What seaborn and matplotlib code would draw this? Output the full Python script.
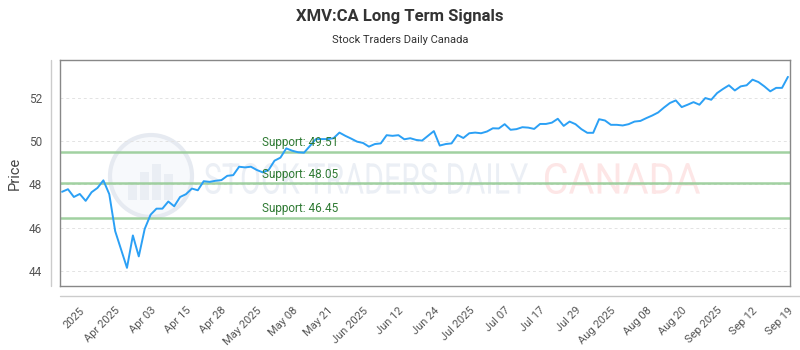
import numpy as np
import pandas as pd
import matplotlib
matplotlib.use("Agg")
import matplotlib.pyplot as plt
import seaborn as sns
from matplotlib.textpath import TextPath
from matplotlib.patches import PathPatch, Ellipse, Rectangle
from matplotlib.font_manager import FontProperties
from matplotlib.transforms import Affine2D
from matplotlib.lines import Line2D

# --- data
prices = [
    47.66, 47.78, 47.42, 47.56, 47.24, 47.64, 47.84, 48.19, 47.55, 45.84,
    44.99, 44.14, 45.64, 44.67, 45.94, 46.60, 46.88, 46.88, 47.21, 46.99,
    47.42, 47.55, 47.81,
    47.73, 48.15, 48.12, 48.17, 48.20, 48.40, 48.43, 48.82, 48.79, 48.82,
    48.67, 48.56, 48.67, 49.10, 49.24, 49.67, 49.56, 49.49, 49.47, 49.78,
    50.10, 50.10, 50.10,
    50.14, 50.40, 50.25, 50.12, 49.98, 49.92, 49.75, 49.87, 49.90, 50.28,
    50.25, 50.28, 50.09, 50.14, 50.06, 50.03, 50.25, 50.47, 49.80, 49.87,
    49.90, 50.29, 50.15,
    50.37, 50.40, 50.37, 50.45, 50.60, 50.59, 50.79, 50.53, 50.56, 50.65,
    50.63, 50.57, 50.80, 50.80, 50.86, 51.04, 50.71, 50.91, 50.79, 50.56,
    50.39, 50.39,
    51.02, 50.96, 50.76, 50.76, 50.73, 50.79, 50.91, 50.94, 51.07, 51.19,
    51.33, 51.56, 51.77, 51.89, 51.58, 51.69, 51.81, 51.69,
    52.00, 51.92, 52.23, 52.42, 52.59, 52.35, 52.54, 52.59, 52.85, 52.74,
    52.54, 52.31, 52.47, 52.47, 52.98,
]
x_labels = ["2025", "Apr 2025", "Apr 03", "Apr 15", "Apr 28", "May 2025",
            "May 08", "May 21", "Jun 2025", "Jun 12", "Jun 24", "Jul 2025",
            "Jul 07", "Jul 17", "Jul 29", "Aug 2025", "Aug 08", "Aug 20",
            "Sep 2025", "Sep 12", "Sep 19"]
supports = [49.51, 48.05, 46.45]

df = pd.DataFrame({"idx": np.arange(len(prices)), "price": prices})

sns.set_theme(style="white")
plt.rcParams["font.family"] = ["Roboto", "DejaVu Sans"]

W, H = 800, 350
fig = plt.figure(figsize=(8, 3.5), dpi=100)
ax = fig.add_axes([60 / W, 1 - 286 / H, 730 / W, 226 / H])

# --- watermark (stretched text paths, placed in pixel coords)
def px_to_fig():
    return Affine2D().scale(1 / W, 1 / H) + fig.transFigure

def stretched(s, x0, y_top, w, h, color):
    tp = TextPath((0, 0), s, size=10, prop=FontProperties(family="Roboto"))
    ext = tp.get_extents()
    tr = (Affine2D().translate(-ext.x0, -ext.y0)
          .scale(w / ext.width, h / ext.height)
          .translate(x0, H - y_top - h))
    ax.add_patch(PathPatch(tp, transform=tr + px_to_fig(), facecolor=color,
                           edgecolor="none", zorder=0.5))

stretched("STOCK TRADERS DAILY", 205, 163, 323, 31, "#ebeff5")
stretched("CANADA", 545, 163, 155, 31, "#fde6e6")
ax.add_patch(Ellipse((151 / W, 1 - 176 / H), 82 / W, 82 / H,
                     transform=fig.transFigure, facecolor="#f7f9fc",
                     edgecolor="#e6eaf1", lw=3, zorder=0.4))
for bx, bh in [(128, 18), (140, 28), (152, 36), (164, 26)]:
    ax.add_patch(Rectangle((bx / W, 1 - 200 / H), 9 / W, bh / H,
                           transform=fig.transFigure, facecolor="#eaeef4",
                           edgecolor="none", zorder=0.45))

# --- price line
sns.lineplot(data=df, x="idx", y="price", ax=ax, color="#2ba0f5",
             linewidth=1.4, zorder=3)

for s in supports:
    ax.axhline(s, color="#97cc97", lw=1.8, alpha=0.9, zorder=2)
    ax.text(33.9, s + 0.12, f"Support: {s:.2f}", color="#2f7a33",
            fontsize=8.5, va="bottom", ha="left", zorder=4)

ax.set_xlim(-0.35, len(prices) - 1 + 0.35)
ax.set_ylim(43.3, 53.76)
ax.set_yticks([44, 46, 48, 50, 52])
tick_pos = np.arange(3, len(prices), 6)[:len(x_labels)]
ax.set_xticks(tick_pos)
ax.set_xticklabels(x_labels, rotation=45, ha="right", rotation_mode="anchor")
ax.tick_params(axis="x", length=0, pad=14, labelsize=8, labelcolor="#555555")
ax.tick_params(axis="y", length=0, pad=13, labelsize=8.5, labelcolor="#555555")
ax.grid(axis="y", color="#e3e3e3", linestyle=(0, (3, 3)), lw=0.7)
ax.set_axisbelow(True)
ax.set_xlabel("")
ax.set_ylabel("Price", fontsize=10.5, color="#444444", labelpad=5)

for sp in ax.spines.values():
    sp.set_color("#888888")
    sp.set_linewidth(1)

# offset axis lines
fig.add_artist(Line2D([50.7 / W, 50.7 / W], [1 - 60 / H, 1 - 286 / H],
                      transform=fig.transFigure, color="#cccccc", lw=1))
fig.add_artist(Line2D([60 / W, 1.0], [1 - 296 / H, 1 - 296 / H],
                      transform=fig.transFigure, color="#cccccc", lw=1))

fig.text(0.5, 1 - 16 / H, "XMV:CA Long Term Signals", ha="center",
         va="center", fontsize=12, fontweight="bold", color="#333333")
fig.text(0.5, 1 - 40 / H, "Stock Traders Daily Canada", ha="center",
         va="center", fontsize=8, color="#333333")

fig.savefig("out.png", dpi=100, facecolor="white")
